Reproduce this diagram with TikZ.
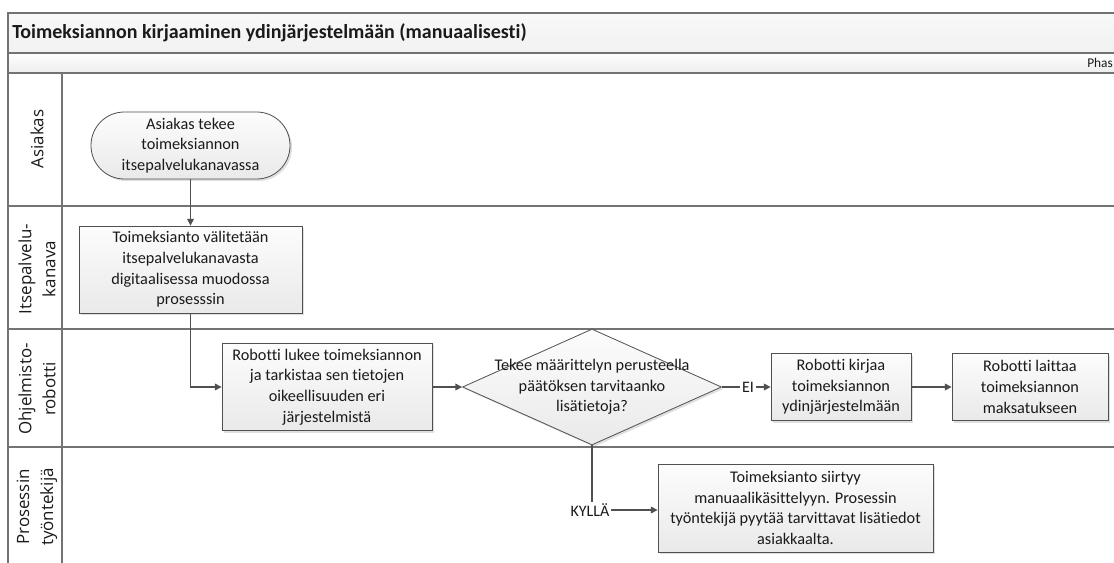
\documentclass[tikz,border=0pt]{standalone}
\usepackage{fontspec}
\setmainfont{Carlito}[Ligatures=NoCommon]
\newfontfamily\lanefont{Open Sans}
\usetikzlibrary{shapes.geometric,arrows.meta,shadows}
\definecolor{ln}{HTML}{505050}
\definecolor{frm}{HTML}{737373}
\definecolor{txt}{HTML}{1A1A1A}
\begin{document}
\begin{tikzpicture}[x=0.75pt,y=-0.75pt,
  every node/.style={text=txt},
  boxfill/.style={draw=ln, line width=0.6pt, top color=gray!2, bottom color=gray!17,
    drop shadow={shadow xshift=1.5pt,shadow yshift=-1.5pt,opacity=0.25}},
  proc/.style={boxfill, rectangle, align=center, inner sep=0pt,
    font=\fontsize{12.2}{15.5}\selectfont},
  conn/.style={draw=ln, line width=0.9pt},
  arr/.style={conn, -{Triangle[length=5pt,width=5pt]}},
  lanelbl/.style={rotate=90, align=center, font=\lanefont\fontsize{12.7}{18}\selectfont},
  frame/.style={draw=frm, line width=1pt},
  small/.style={font=\fontsize{12}{15}\selectfont, inner sep=1pt}
]
\useasboundingbox (0,0) rectangle (1114,563);
\clip (0,0) rectangle (1114,563);
\fill[white] (0,0) rectangle (1114,563);
% pool header bands
\path[frame, top color=gray!5, bottom color=gray!11] (8,13) rectangle (1130,53);
\path[frame, top color=white, bottom color=gray!14] (8,53) rectangle (1130,73);
\node[anchor=west, font=\bfseries\fontsize{15}{18}\selectfont, inner sep=0pt] (title) at (12,33)
  {Toimeksiannon kirjaaminen ydinjärjestelmään (manuaalisesti)};
\node[anchor=east, font=\fontsize{10}{12}\selectfont, inner sep=0pt] (phase) at (1113,63) {Phas};
% lanes
\draw[frame] (8,13) -- (8,575);
\draw[frame] (62,73) -- (62,575);
\draw[frame] (8,206) -- (1130,206);
\draw[frame] (8,329) -- (1130,329);
\draw[frame] (8,447) -- (1130,447);
\node[lanelbl] (l1) at (37,139) {Asiakas};
\node[lanelbl] (l2) at (37,269) {Itsepalvelu-\\kanava};
\node[lanelbl] (l3) at (37,389) {Ohjelmisto-\\robotti};
\node[lanelbl] (l4) at (37,507) {Prosessin\\työntekijä};
% nodes
\node[proc, rounded corners=25pt, minimum width=149.25pt, minimum height=50.25pt] (t1) at (190.5,145.5)
  {Asiakas tekee\\toimeksiannon\\itsepalvelukanavassa};
\node[proc, minimum width=167.25pt, minimum height=65.25pt] (b2) at (190.5,269.5)
  {Toimeksianto välitetään\\itsepalvelukanavasta\\digitaalisessa muodossa\\prosesssin};
\node[proc, minimum width=157.5pt, minimum height=65.5pt] (b3) at (327,387)
  {Robotti lukee toimeksiannon\\ja tarkistaa sen tietojen\\oikeellisuuden eri\\järjestelmistä};
\node[boxfill, diamond, inner sep=0pt, minimum width=194.25pt, minimum height=87pt,
  font=\fontsize{12.2}{15.5}\selectfont] (dia) at (592,387)
  {\makebox[0pt]{\begin{tabular}{@{}c@{}}Tekee määrittelyn perusteella\\päätöksen tarvitaanko\\lisätietoja?\end{tabular}}};
\node[proc, minimum width=105pt, minimum height=50.25pt] (k) at (841,387)
  {Robotti kirjaa\\toimeksiannon\\ydinjärjestelmään};
\node[proc, minimum width=117pt, minimum height=50.25pt] (l) at (1030,387)
  {Robotti laittaa\\toimeksiannon\\maksatukseen};
\node[proc, minimum width=206.25pt, minimum height=66pt] (m) at (795.5,508)
  {Toimeksianto siirtyy\\manuaalikäsittelyyn. Prosessin\\työntekijä pyytää tarvittavat lisätiedot\\asiakkaalta.};
\node[small] (ei) at (748,387) {EI};
\node[small] (ky) at (590,510) {KYLLÄ};
% connectors
\draw[arr] (t1) -- (b2);
\draw[arr] (b2.south) |- (b3.west);
\draw[arr] (b3) -- (dia);
\draw[conn] (dia.east) -- (ei.west);
\draw[arr] (ei.east) -- (k.west);
\draw[arr] (k) -- (l);
\draw[conn] (dia.south) -- (dia.south |- ky.north);
\draw[arr] (ky.east) -- (m.west |- ky.east);
\end{tikzpicture}
\end{document}
